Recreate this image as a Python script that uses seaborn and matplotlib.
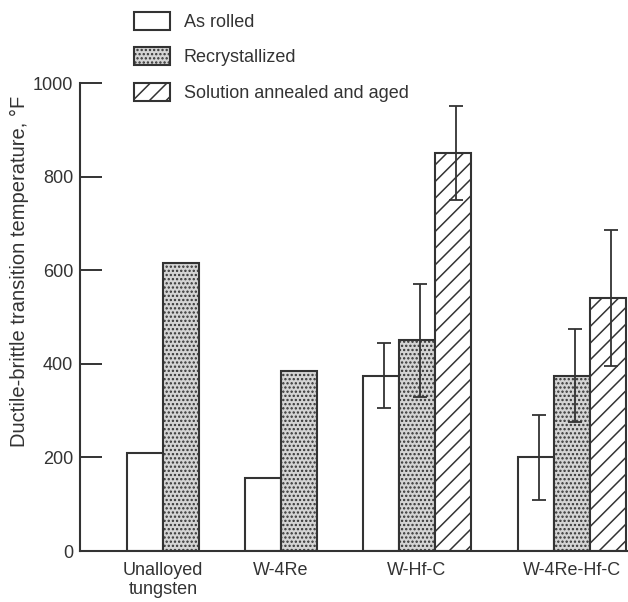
import numpy as np
import pandas as pd
import seaborn as sns
import matplotlib.pyplot as plt
from matplotlib.patches import Patch

# data
alloys = ["Unalloyed\ntungsten", "W-4Re", "W-Hf-C", "W-4Re-Hf-C"]
conditions = ["As rolled", "Recrystallized", "Solution annealed and aged"]

as_rolled = [210, 155, 375, 200]
recrystallized = [615, 385, 450, 375]
annealed_aged = [np.nan, np.nan, 850, 540]

as_rolled_err = [np.nan, np.nan, 70, 90]
recrystallized_err = [np.nan, np.nan, 120, 100]
annealed_aged_err = [np.nan, np.nan, 100, 145]

yticks = [0, 200, 400, 600, 800, 1000]

# layout: left edge of each group in bar widths (groups are not evenly spaced)
group_left = [1.306, 4.583, 7.861, 12.167]

sns.set_style("ticks")
plt.rcParams['font.family'] = ['Liberation Sans', 'DejaVu Sans']
ink = '#333333'
plt.rcParams['hatch.linewidth'] = 1.1
fs = 13

rows = []
for vals, errs, cond in [(as_rolled, as_rolled_err, conditions[0]),
                         (recrystallized, recrystallized_err, conditions[1]),
                         (annealed_aged, annealed_aged_err, conditions[2])]:
    k = conditions.index(cond)
    for g, alloy in enumerate(alloys):
        if np.isnan(vals[g]):
            continue
        rows.append({'alloy': alloy, 'condition': cond, 'x': group_left[g] + k + 0.5,
                     'temp': vals[g], 'err': errs[g]})
df = pd.DataFrame(rows)

fig = plt.figure(figsize=(6.28, 6.02), dpi=100)
ax = fig.add_axes([80 / 628, 51 / 602, 548 / 628, 468 / 602])

face = {conditions[0]: 'white', conditions[1]: '#d4d4d4', conditions[2]: 'white'}
hatches = {conditions[0]: '', conditions[1]: '....', conditions[2]: '//'}

sns.barplot(data=df, x='x', y='temp', hue='condition', hue_order=conditions,
            palette=face, native_scale=True, dodge=False, width=1.0,
            errorbar=None, edgecolor=ink, linewidth=1.5, legend=False, ax=ax)

for cont, cond in zip(ax.containers, conditions):
    for bar in cont:
        bar.set_hatch(hatches[cond])
        bar.set_edgecolor(ink)

e = df.dropna(subset=['err'])
ax.errorbar(e['x'] + 0.08, e['temp'], yerr=e['err'], fmt='none', ecolor=ink,
            elinewidth=1.3, capsize=4.8, capthick=1.3)

# axis styling
ax.set_xlim(0, 548 / 36)
ax.set_ylim(0, 1000)
ax.set_yticks(yticks)
ax.tick_params(axis='y', direction='in', length=16, width=1.4, pad=5,
               labelsize=fs, colors=ink)
centres = [group_left[g] + (2 if np.isnan(annealed_aged[g]) else 3) / 2 for g in range(len(alloys))]
ax.set_xticks(centres)
ax.set_xticklabels(alloys, fontsize=fs, color=ink, linespacing=1.15)
ax.tick_params(axis='x', length=0, pad=8)
ax.set_xlabel('')
ax.set_ylabel('Ductile-brittle transition temperature, °F', fontsize=14.5, color=ink)
ax.yaxis.set_label_coords(-0.093, 0.598)
sns.despine(ax=ax)
for s in ['left', 'bottom']:
    ax.spines[s].set_color(ink)
    ax.spines[s].set_linewidth(1.5)

handles = [Patch(facecolor=face[c], edgecolor=ink, hatch=hatches[c], linewidth=1.5) for c in conditions]
fig.legend(handles=handles, labels=conditions, loc='upper left',
           bbox_to_anchor=(134 / 628, 1 - 12 / 602), frameon=False, fontsize=fs,
           handlelength=2.0, handleheight=1.15, handletextpad=0.75,
           labelspacing=0.9, borderpad=0, borderaxespad=0, labelcolor=ink)

fig.savefig('out.png', dpi=100)
